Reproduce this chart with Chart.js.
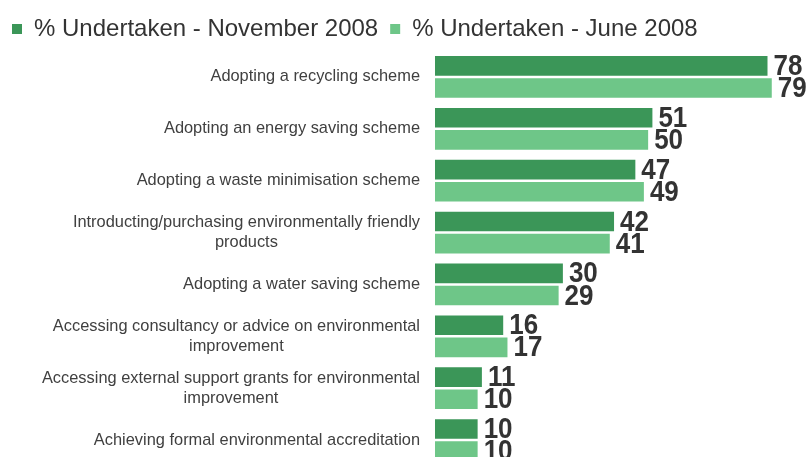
<!DOCTYPE html>
<html>
<head>
<meta charset="utf-8">
<script src="https://cdn.jsdelivr.net/npm/chart.js@4/dist/chart.umd.min.js"></script>
<style>
  html, body { margin: 0; padding: 0; background: #fff; overflow: hidden; }
  #wrap { position: relative; width: 808px; height: 466px; }
</style>
</head>
<body>
<div id="wrap"><canvas id="chart"></canvas></div>
<script>
  // Categories (multi-line ones are split into lines)
  var categories = [
    ['Adopting a recycling scheme'],
    ['Adopting an energy saving scheme'],
    ['Adopting a waste minimisation scheme'],
    ['Introducting/purchasing environmentally friendly', 'products'],
    ['Adopting a water saving scheme'],
    ['Accessing consultancy or advice on environmental', 'improvement'],
    ['Accessing external support grants for environmental', 'improvement'],
    ['Achieving formal environmental accreditation']
  ];
  var seriesNames = ['% Undertaken - November 2008', '% Undertaken - June 2008'];
  var novValues  = [78, 51, 47, 42, 30, 16, 11, 10];
  var juneValues = [79, 50, 49, 41, 29, 17, 10, 10];

  var FONT = '"Liberation Sans", Arial, Helvetica, sans-serif';
  var DARK = '#3b9658';
  var LIGHT = '#6ec688';

  // Category labels on the left: right-aligned block, lines centred within it
  var categoryLabels = {
    id: 'categoryLabels',
    afterDraw: function (chart) {
      var ctx = chart.ctx;
      var y = chart.scales.y;
      var rightEdge = chart.chartArea.left - 15;
      var lh = 20;
      ctx.save();
      ctx.font = '16.4px ' + FONT;
      ctx.fillStyle = '#404040';
      ctx.textAlign = 'center';
      ctx.textBaseline = 'middle';
      categories.forEach(function (lines, i) {
        var cy = y.getPixelForValue(i);
        var widest = 0;
        lines.forEach(function (l) { widest = Math.max(widest, ctx.measureText(l).width); });
        var cx = rightEdge - widest / 2;
        var top = cy - (lines.length - 1) * lh / 2;
        lines.forEach(function (l, j) { ctx.fillText(l, cx, top + j * lh); });
      });
      ctx.restore();
    }
  };

  // Value labels at the end of each bar (slightly tall, narrow digits)
  var valueLabels = {
    id: 'valueLabels',
    afterDatasetsDraw: function (chart) {
      var ctx = chart.ctx;
      ctx.save();
      ctx.font = 'bold 26px ' + FONT;
      ctx.fillStyle = '#333333';
      ctx.textAlign = 'left';
      ctx.textBaseline = 'middle';
      chart.data.datasets.forEach(function (ds, di) {
        chart.getDatasetMeta(di).data.forEach(function (bar, i) {
          ctx.save();
          ctx.translate(bar.x + 6, bar.y + 1);
          ctx.scale(1, 1.12);
          ctx.fillText(String(ds.data[i]), 0, 0);
          ctx.restore();
        });
      });
      ctx.restore();
    }
  };

  new Chart(document.getElementById('chart'), {
    type: 'bar',
    data: {
      labels: categories.map(function (c) { return c.join(' '); }),
      datasets: [
        { label: seriesNames[0], data: novValues,  backgroundColor: DARK,  borderWidth: 0 },
        { label: seriesNames[1], data: juneValues, backgroundColor: LIGHT, borderWidth: 0 }
      ]
    },
    options: {
      indexAxis: 'y',
      responsive: true,
      maintainAspectRatio: false,
      animation: false,
      layout: { padding: { left: 0, right: 0, top: 5, bottom: 0 } },
      datasets: { bar: { categoryPercentage: 0.853, barPercentage: 0.886 } },
      plugins: {
        legend: {
          position: 'top',
          align: 'start',
          labels: {
            color: '#333333',
            font: { family: FONT, size: 24 },
            boxWidth: 10,
            boxHeight: 10,
            padding: 12
          }
        },
        tooltip: { enabled: false }
      },
      scales: {
        x: { display: false, min: 0, max: 87.5 },
        y: {
          grid: { display: false },
          border: { display: false },
          ticks: { display: false },
          // reserve the left gutter for the category labels
          afterFit: function (s) { s.width = 435; }
        }
      }
    },
    plugins: [categoryLabels, valueLabels]
  });
</script>
</body>
</html>
